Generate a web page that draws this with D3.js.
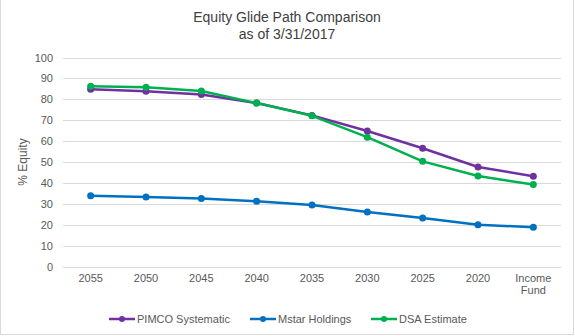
<!DOCTYPE html>
<html>
<head>
<meta charset="utf-8">
<script src="https://cdn.jsdelivr.net/npm/d3@7"></script>
<style>
  body { margin: 0; background: #fff; }
  svg { display: block; font-family: "Liberation Sans", Arial, sans-serif; }
  .grid line { stroke: #d9d9d9; stroke-width: 1; }
  .axis text { fill: #595959; font-size: 11px; }
</style>
</head>
<body>
<svg width="575" height="336"></svg>
<script>
var categories = ['2055', '2050', '2045', '2040', '2035', '2030', '2025', '2020', 'Income Fund'];
var pimco = [84.8, 83.8, 82.3, 78.2, 72.3, 64.8, 56.6, 47.6, 43.2];
var mstar = [33.8, 33.3, 32.5, 31.2, 29.4, 26.1, 23.2, 20.0, 18.8];
var dsa = [86.2, 85.8, 84.0, 78.2, 72.1, 61.9, 50.3, 43.3, 39.2];
var yTicks = [0, 10, 20, 30, 40, 50, 60, 70, 80, 90, 100];
var seriesNames = ['PIMCO Systematic', 'Mstar Holdings', 'DSA Estimate'];
var colors = ['#7030a0', '#0070c0', '#00b050'];

var series = [pimco, mstar, dsa].map(function (vals, i) {
  return { name: seriesNames[i], color: colors[i], values: vals };
});

var svg = d3.select('svg');

// chart frame (left, right, bottom edges visible)
svg.append('path')
  .attr('d', 'M0.5,0 V334.5 H573.5 V0')
  .attr('fill', 'none')
  .attr('stroke', '#d9d9d9');

var x = d3.scaleBand().domain(categories).range([63, 561]);
var y = d3.scaleLinear().domain([0, 100]).range([266.5, 57.5]);

// gridlines
svg.append('g').attr('class', 'grid')
  .selectAll('line')
  .data(yTicks)
  .enter().append('line')
  .attr('x1', 63).attr('x2', 561)
  .attr('y1', function (d) { return Math.round(y(d)) + 0.5; })
  .attr('y2', function (d) { return Math.round(y(d)) + 0.5; });

// y axis labels
var yAxis = svg.append('g').attr('class', 'axis')
  .attr('transform', 'translate(53,0)')
  .call(d3.axisLeft(y).tickValues(yTicks).tickSize(0).tickPadding(0));
yAxis.select('.domain').remove();
yAxis.selectAll('text').style('font-family', null);

// x axis labels
var xAxis = svg.append('g').attr('class', 'axis')
  .attr('transform', 'translate(0,274)')
  .call(d3.axisBottom(x).tickSize(0).tickPadding(0));
xAxis.select('.domain').remove();
xAxis.selectAll('text').each(function (d) {
  var t = d3.select(this);
  var words = d.split(' ');
  t.text(null);
  words.forEach(function (w, i) {
    t.append('tspan').attr('x', 0).attr('dy', i === 0 ? '0.71em' : '1.15em').text(w);
  });
});

// titles
svg.append('text')
  .attr('x', 287).attr('y', 22)
  .attr('text-anchor', 'middle')
  .attr('fill', '#404040')
  .style('font-size', '14px')
  .text('Equity Glide Path Comparison');
svg.append('text')
  .attr('x', 287).attr('y', 39)
  .attr('text-anchor', 'middle')
  .attr('fill', '#404040')
  .style('font-size', '14px')
  .text('as of 3/31/2017');

svg.append('text')
  .attr('transform', 'translate(27,162) rotate(-90)')
  .attr('text-anchor', 'middle')
  .attr('fill', '#595959')
  .style('font-size', '12px')
  .text('% Equity');

// lines and markers
var line = d3.line()
  .x(function (d, i) { return x(categories[i]) + x.bandwidth() / 2; })
  .y(function (d) { return y(d); });

var sg = svg.selectAll('.series')
  .data(series)
  .enter().append('g')
  .attr('class', 'series');

sg.append('path')
  .attr('d', function (s) { return line(s.values); })
  .attr('fill', 'none')
  .attr('stroke', function (s) { return s.color; })
  .attr('stroke-width', 2.5)
  .attr('stroke-linejoin', 'round');

sg.selectAll('circle')
  .data(function (s) { return s.values.map(function (v, i) { return { v: v, i: i, c: s.color }; }); })
  .enter().append('circle')
  .attr('cx', function (d) { return x(categories[d.i]) + x.bandwidth() / 2; })
  .attr('cy', function (d) { return y(d.v); })
  .attr('r', 3.5)
  .attr('fill', function (d) { return d.c; });

// legend
var legendX = [109, 250, 371];
var lg = svg.selectAll('.legend')
  .data(series)
  .enter().append('g')
  .attr('class', 'legend')
  .attr('transform', function (d, i) { return 'translate(' + legendX[i] + ',319)'; });

lg.append('line')
  .attr('x1', 0).attr('x2', 26)
  .attr('stroke', function (d) { return d.color; })
  .attr('stroke-width', 2.5);
lg.append('circle')
  .attr('cx', 13).attr('r', 3)
  .attr('fill', function (d) { return d.color; });
lg.append('text')
  .attr('x', 28).attr('dy', '0.35em')
  .attr('fill', '#595959')
  .style('font-size', '11px')
  .text(function (d) { return d.name; });
</script>
</body>
</html>
